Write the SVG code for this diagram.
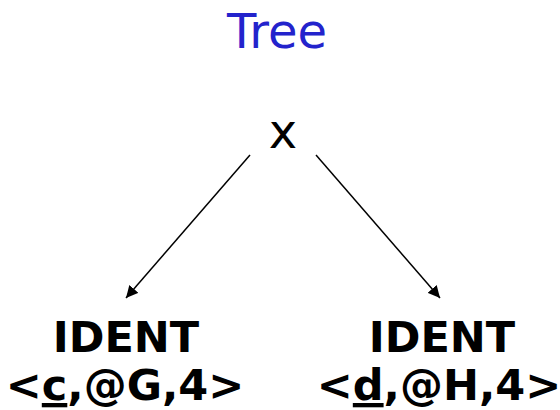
<svg xmlns="http://www.w3.org/2000/svg" width="560" height="410" viewBox="0 0 560 410">
<style>
.t{font-family:"DejaVu Sans",sans-serif;text-anchor:middle}
.title{fill:#2323cc;font-size:48px}
.lbl{fill:#000;font-size:48px}
.b{fill:#000;font-size:43px;font-weight:bold}
.e{stroke:#000;stroke-width:1.5;fill:none}
</style>
<defs>
<marker id="ah" viewBox="0 0 10 10" refX="10" refY="5" markerWidth="12" markerHeight="12" markerUnits="userSpaceOnUse" orient="auto">
<path d="M0,0 L10,5 L0,10 z" fill="#000"/>
</marker>
</defs>
<rect width="560" height="410" fill="#fff"/>
<text class="t title" x="277" y="48">Tree</text>
<g id="edges">
<line class="e" x1="250" y1="155" x2="126" y2="298" marker-end="url(#ah)"/>
<line class="e" x1="316" y1="155" x2="440" y2="298" marker-end="url(#ah)"/>
</g>
<g id="root"><text class="t lbl" x="283" y="148">x</text></g>
<g id="left">
<text class="t b" x="126" y="352">IDENT</text>
<text class="t b" x="125" y="400">&lt;<tspan text-decoration="underline">c</tspan>,@G,4&gt;</text>
</g>
<g id="right">
<text class="t b" x="442" y="352">IDENT</text>
<text class="t b" x="439" y="400">&lt;<tspan text-decoration="underline">d</tspan>,@H,4&gt;</text>
</g>
</svg>
